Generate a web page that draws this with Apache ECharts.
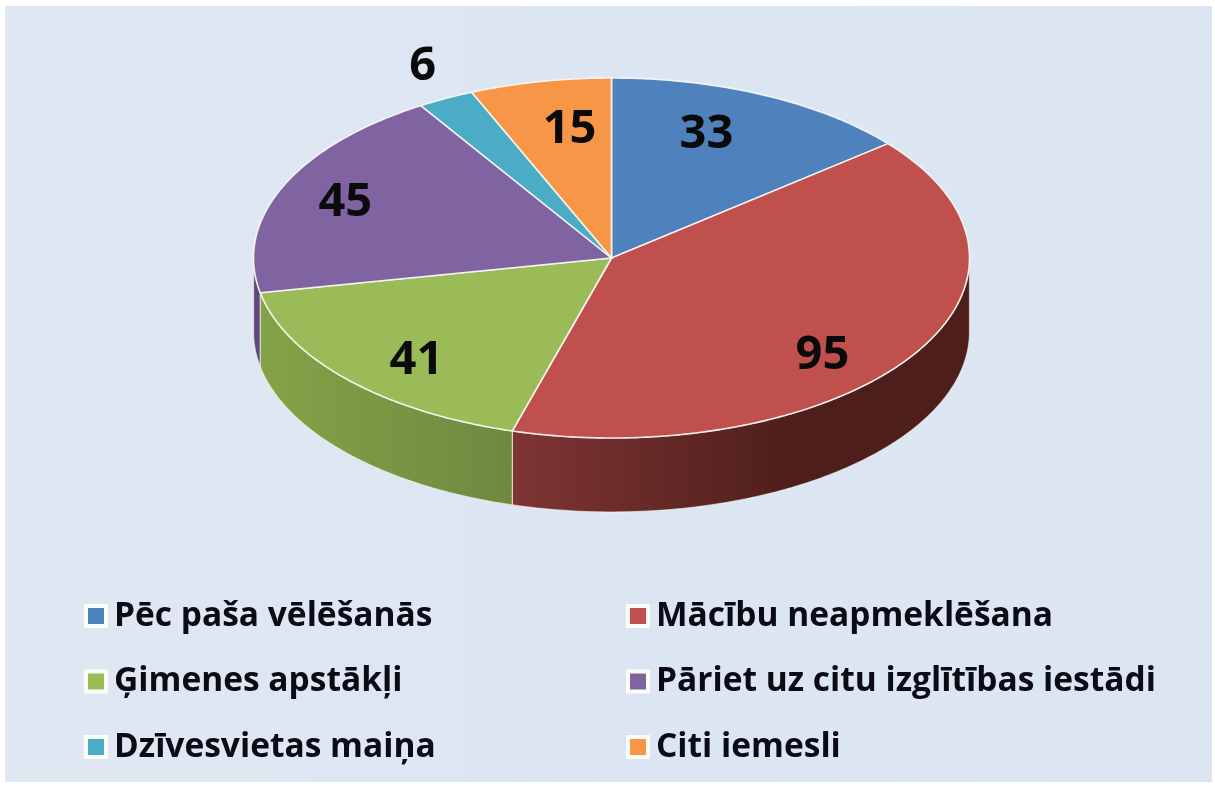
<!DOCTYPE html>
<html><head><meta charset="utf-8">
<style>html,body{margin:0;padding:0;background:#fff}#c{width:1215px;height:787px}</style>
<script src="https://cdn.jsdelivr.net/npm/echarts@6/dist/echarts.min.js"></script>
</head><body><div id="c"></div>
<script>
const categories = ['Pēc paša vēlēšanās','Mācību neapmeklēšana','Ģimenes apstākļi','Pāriet uz citu izglītības iestādi','Dzīvesvietas maiņa','Citi iemesli'];
const values = [33,95,41,45,6,15];
const colors = ['#4f81bd','#c0504d','#9bbb59','#8064a2','#4bacc6','#f79646'];
const sideStops = [null,['#7f3533','#4d1e1b'],['#84a348','#6e893f'],['#5f4a80','#5f4a80'],null,null];
const labelFx = [0.621,0.705,0.739,0.81,1.14,0.588];
const labelFy = [0.774,0.96,0.82,0.825,1.22,0.743];

const cx=611.5, cy=258, rx=358, ry=180, depth=74;
const total = values.reduce((a,b)=>a+b,0);
function pt(a,dy){return [cx+rx*Math.sin(a), cy-ry*Math.cos(a)+(dy||0)];}
function arc(a0,a1,dy){const n=Math.max(2,Math.ceil((a1-a0)/0.01));const o=[];for(let i=0;i<=n;i++)o.push(pt(a0+(a1-a0)*i/n,dy));return o;}
const renderSlice = (idx)=>(params,api)=>{
  const before = values.slice(0,idx).reduce((a,b)=>a+b,0);
  const v = api.value(0);
  const a0 = before/total*2*Math.PI, a1=(before+v)/total*2*Math.PI, mid=(a0+a1)/2;
  const children=[];
  const s0=Math.max(a0,Math.PI/2), s1=Math.min(a1,1.5*Math.PI);
  if(s1>s0 && sideStops[idx]){
    const top=arc(s0,s1,0), bot=arc(s0,s1,depth).reverse();
    const xs=top.map(p=>p[0]);
    const stops=sideStops[idx];
    children.push({type:'polygon',shape:{points:top.concat(bot)},
      style:{fill:new echarts.graphic.LinearGradient(Math.min(...xs),0,Math.max(...xs),0,[{offset:0,color:stops[0]},{offset:idx===1?0.62:1,color:stops[1]},{offset:1,color:stops[1]}],true),
      stroke:'rgba(245,248,240,0.65)',lineWidth:1.2}});
  }
  children.push({type:'polygon',shape:{points:[[cx,cy]].concat(arc(a0,a1,0))},
    style:{fill:colors[idx],stroke:'rgba(250,250,245,0.9)',lineWidth:1.6,lineJoin:'round'}});
  children.push({type:'text',z2:10,style:{text:String(v),x:cx+labelFx[idx]*rx*Math.sin(mid),y:cy-labelFy[idx]*ry*Math.cos(mid)+3,
    align:'center',verticalAlign:'middle',fill:'#0a0a0a',font:'bold 47px "Open Sans"'}});
  return {type:'group',children};
};
const series = categories.map((name,i)=>({
  type:'custom',name,coordinateSystem:'none',data:[[values[i]]],itemStyle:{color:colors[i]},
  renderItem:renderSlice(i),silent:true,animation:false,z:2
}));
const legendCommon={orient:'vertical',top:599,height:190,padding:0,icon:'rect',itemWidth:20,itemHeight:20,itemGap:31.5,
  itemStyle:{borderColor:'#fdfdf8',borderWidth:4},selectedMode:false,
  textStyle:{fontFamily:'"Open Sans"',fontWeight:'bold',fontSize:33.5,color:'#0b0b16',padding:[0,0,0,3]}};
const option={
  animation:false,
  backgroundColor:'#ffffff',
  graphic:[{type:'rect',z:-1,shape:{x:5,y:6,width:1207,height:776},
    style:{fill:new echarts.graphic.LinearGradient(0,0,1,0,[{offset:0,color:'#dfe7f2'},{offset:0.5,color:'#dce6f2'},{offset:1,color:'#dde5f3'}])}}],
  legend:[
    Object.assign({left:84,data:[categories[0],categories[2],categories[4]]},legendCommon),
    Object.assign({left:626,data:[categories[1],categories[3],categories[5]]},legendCommon)
  ],
  series
};
const chart=echarts.init(document.getElementById('c'),null,{renderer:'canvas'});
chart.setOption(option);
</script></body></html>
